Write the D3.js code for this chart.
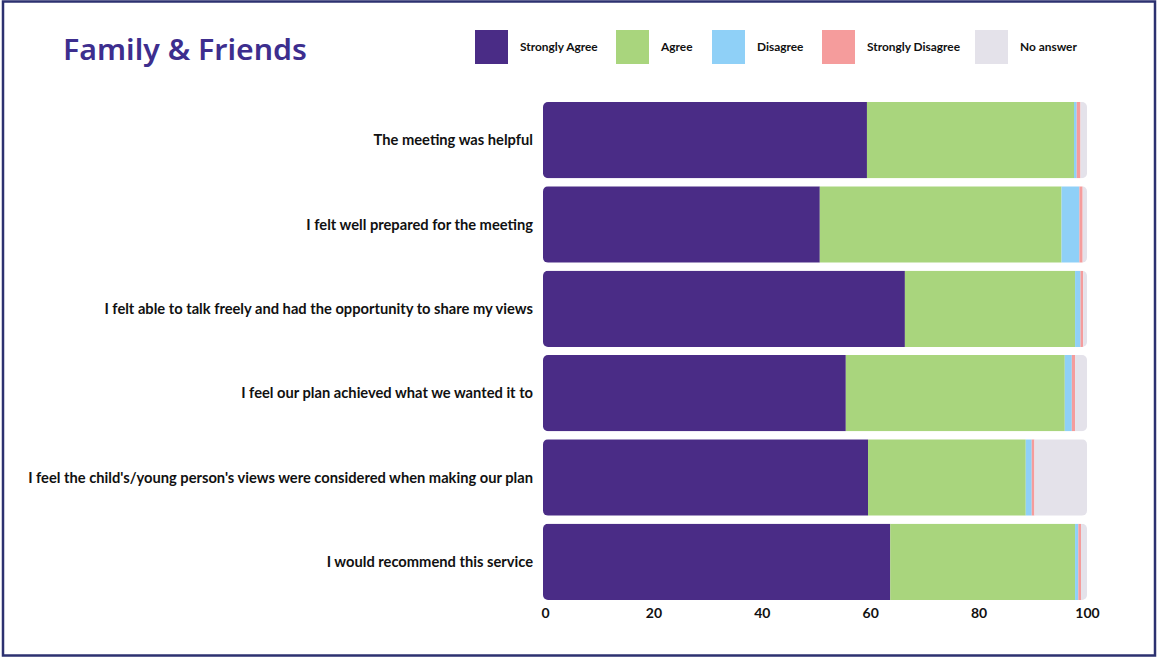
<!DOCTYPE html>
<html>
<head>
<meta charset="utf-8">
<script src="https://cdn.jsdelivr.net/npm/d3@7"></script>
<style>
  html, body { margin: 0; padding: 0; background: #fff; }
  svg { display: block; }
</style>
</head>
<body>
<svg id="chart" width="1158" height="659"></svg>
<script>
// Survey statements (top to bottom)
const categories = [
  "The meeting was helpful",
  "I felt well prepared for the meeting",
  "I felt able to talk freely and had the opportunity to share my views",
  "I feel our plan achieved what we wanted it to",
  "I feel the child's/young person's views were considered when making our plan",
  "I would recommend this service"
];

// Response shares (%) per statement
const seriesNames = ["Strongly Agree", "Agree", "Disagree", "Strongly Disagree", "No answer"];
const stronglyAgree    = [59.4, 50.7, 66.4, 55.5, 59.6, 63.7];
const agree            = [38.2, 44.6, 31.4, 40.4, 29.1, 34.1];
const disagree         = [0.5, 3.3, 1.0, 1.3, 1.1, 0.6];
const stronglyDisagree = [0.7, 0.6, 0.5, 0.6, 0.5, 0.5];
const noAnswer         = [1.2, 0.8, 0.7, 2.2, 9.7, 1.1];
const xTicks = [0, 20, 40, 60, 80, 100];

const colors = ["#4a2c86", "#a9d57d", "#8fd0f7", "#f59c9c", "#e4e2ea"];

const rows = categories.map((c, i) => ({
  category: c,
  "Strongly Agree": stronglyAgree[i],
  "Agree": agree[i],
  "Disagree": disagree[i],
  "Strongly Disagree": stronglyDisagree[i],
  "No answer": noAnswer[i]
}));

const svg = d3.select("#chart");
const W = 1158, H = 659;

// page frame
svg.append("rect")
  .attr("x", 3).attr("y", 1.5).attr("width", W - 6).attr("height", H - 5)
  .attr("fill", "none").attr("stroke", "#2c3170").attr("stroke-width", 2.5);

// title
svg.append("text")
  .attr("x", 63).attr("y", 60)
  .attr("font-family", "'Noto Sans', sans-serif")
  .attr("font-weight", 600)
  .attr("font-size", 28)
  .attr("fill", "#3d2e8e")
  .attr("textLength", 244)
  .attr("lengthAdjust", "spacingAndGlyphs")
  .text("Family & Friends");

const margin = { left: 545, right: 71, top: 102, bottom: 61 };
const x = d3.scaleLinear().domain([0, 100]).range([margin.left, W - margin.right]);
const y = d3.scaleBand().domain(categories)
  .range([margin.top, H - margin.bottom + 2]).paddingInner(0.095).paddingOuter(0);

const stack = d3.stack().keys(seriesNames);
const stacked = stack(rows);
const color = d3.scaleOrdinal().domain(seriesNames).range(colors);

// clip each bar to a rounded rectangle
const defs = svg.append("defs");
rows.forEach((r, i) => {
  const total = seriesNames.reduce((s, k) => s + r[k], 0);
  defs.append("clipPath").attr("id", "clip" + i)
    .append("rect")
    .attr("x", x(0) - 2).attr("y", y(r.category))
    .attr("width", x(total) - x(0) + 2).attr("height", y.bandwidth())
    .attr("rx", 5).attr("ry", 5);
});

const barG = svg.append("g");
rows.forEach((r, i) => {
  const g = barG.append("g").attr("clip-path", `url(#clip${i})`);
  stacked.forEach(layer => {
    const d = layer[i];
    g.append("rect")
      .attr("x", x(d[0]) - (layer.key === "Strongly Agree" ? 2 : 0))
      .attr("y", y(r.category))
      .attr("width", x(d[1]) - x(d[0]) + (layer.key === "Strongly Agree" ? 2 : 0))
      .attr("height", y.bandwidth())
      .attr("fill", color(layer.key));
  });
});

// category labels
const labelFont = "Lato, 'Open Sans', sans-serif";
svg.append("g").selectAll("text").data(categories).join("text")
  .attr("x", 533)
  .attr("y", d => y(d) + y.bandwidth() / 2)
  .attr("dy", "0.35em")
  .attr("text-anchor", "end")
  .attr("font-family", labelFont)
  .attr("font-weight", 700)
  .attr("font-size", 14.7)
  .attr("fill", "#111")
  .text(d => d);

// x axis
const axis = d3.axisBottom(x).tickValues(xTicks).tickSize(0).tickPadding(0);
const ax = svg.append("g")
  .attr("transform", `translate(0, ${H - margin.bottom + 2})`)
  .call(axis);
ax.select(".domain").remove();
ax.selectAll("text")
  .attr("dy", "1.3em")
  .attr("font-family", labelFont)
  .attr("font-weight", 700)
  .attr("font-size", 14)
  .attr("fill", "#111");

// legend
const legendX = [475, 616, 712, 822, 975];
const legend = svg.append("g");
seriesNames.forEach((name, i) => {
  legend.append("rect")
    .attr("x", legendX[i]).attr("y", 30)
    .attr("width", 33).attr("height", 34)
    .attr("fill", colors[i]);
  legend.append("text")
    .attr("x", legendX[i] + 45).attr("y", 47)
    .attr("dy", "0.35em")
    .attr("font-family", labelFont)
    .attr("font-weight", 700)
    .attr("font-size", 11.9)
    .attr("fill", "#111")
    .text(name);
});
</script>
</body>
</html>
